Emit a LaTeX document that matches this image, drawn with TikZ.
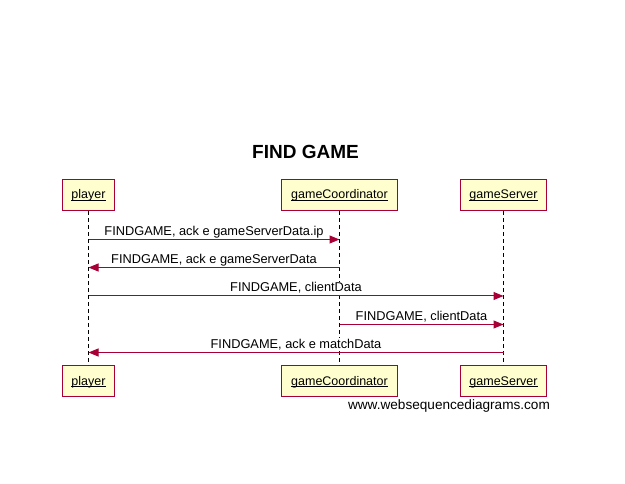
\documentclass[tikz,border=0pt]{standalone}
\usepackage{fontspec}
\setmainfont{Liberation Sans}
\usetikzlibrary{arrows.meta,positioning}
\definecolor{actorfill}{HTML}{FEFECE}
\definecolor{actorline}{HTML}{A80036}
\newcommand{\actorname}[1]{\underline{\smash{#1}}}
\tikzset{
    actor/.style={draw=actorline, fill=actorfill, line width=1pt, minimum height=31pt, inner xsep=9.3pt, text height=10pt, text depth=3pt, font=\fontsize{12.5}{14}\selectfont},
    msg/.style={draw=actorline, line width=1pt, -{Triangle[length=10pt,width=8pt]}},
    msglabel/.style={midway, above=0.5pt, inner sep=1pt, text depth=2pt, fill=white, font=\fontsize{12.8}{14}\selectfont},
    lifeline/.style={line width=1pt, dash pattern=on 4pt off 3pt}
}
\begin{document}
\begin{tikzpicture}[x=1pt, y=-1pt]
    \useasboundingbox (0,0) rectangle (625,484);
    \fill[white] (0,0) rectangle (625,484);
    \node[font=\fontsize{19}{22}\selectfont\bfseries] (title) at (305.5,151.5) {FIND GAME};

    % actors, top and bottom
    \node[actor] (player) at (88.5,195.5) {\actorname{player}};
    \node[actor] (coord) at (339.5,195.5) {\actorname{gameCoordinator}};
    \node[actor] (server) at (503.5,195.5) {\actorname{gameServer}};
    \node[actor] (playerB) at (88.5,381.5) {\actorname{player}};
    \node[actor] (coordB) at (339.5,381.5) {\actorname{gameCoordinator}};
    \node[actor] (serverB) at (503.5,381.5) {\actorname{gameServer}};

    \draw[lifeline] (player) -- (playerB);
    \draw[lifeline] (coord) -- (coordB);
    \draw[lifeline] (server) -- (serverB);

    % messages
    \coordinate (m1) at (0,239.5);
    \coordinate (m2) at (0,267.5);
    \coordinate (m3) at (0,296);
    \coordinate (m4) at (0,324.5);
    \coordinate (m5) at (0,352.5);
    \draw[msg] (player |- m1) -- (coord |- m1) node[msglabel] {FINDGAME, ack e gameServerData.ip};
    \draw[msg] (coord |- m2) -- (player |- m2) node[msglabel] {FINDGAME, ack e gameServerData};
    \draw[msg] (player |- m3) -- (server |- m3) node[msglabel] {FINDGAME, clientData};
    \draw[msg] (coord |- m4) -- (server |- m4) node[msglabel] {FINDGAME, clientData};
    \draw[msg] (server |- m5) -- (player |- m5) node[msglabel] {FINDGAME, ack e matchData};

    \node[font=\fontsize{13.6}{15}\selectfont] (site) at (449,405.5) {www.websequencediagrams.com};
\end{tikzpicture}
\end{document}
